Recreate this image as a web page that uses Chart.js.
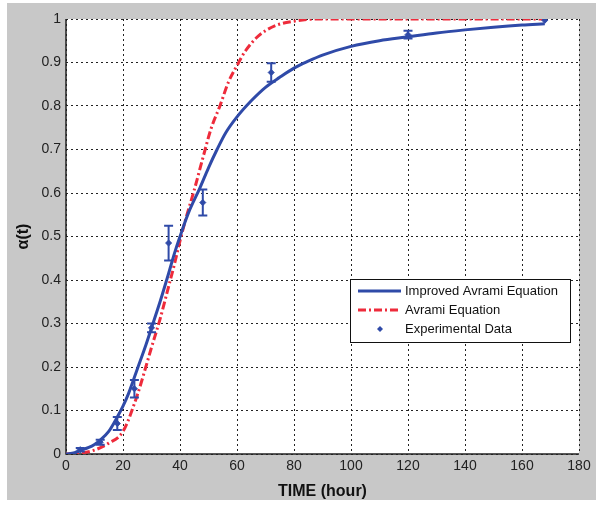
<!DOCTYPE html>
<html>
<head>
<meta charset="utf-8">
<script src="https://cdn.jsdelivr.net/npm/chart.js"></script>
<style>
  html, body { margin: 0; padding: 0; background: #fff; }
  #frame { position: absolute; left: 7px; top: 3px; width: 589px; height: 497px; background: #c8c8c8; }
  #wrap { position: absolute; left: 0; top: 0; width: 604px; height: 508px; }
</style>
</head>
<body>
<div id="frame"></div>
<div id="wrap"><canvas id="chart" width="604" height="508"></canvas></div>
<script>
// Improved Avrami fit (blue)
const improvedX = [0, 3, 5, 8, 10, 12, 15, 18, 20, 22, 25, 28, 30, 33, 36, 38, 40, 43, 47, 50, 53, 56, 60, 65, 70, 75, 80, 85, 90, 100, 110, 120, 130, 140, 150, 160, 168];
const improvedY = [0, 0.003, 0.008, 0.015, 0.022, 0.032, 0.052, 0.085, 0.11, 0.14, 0.195, 0.25, 0.29, 0.35, 0.415, 0.46, 0.5, 0.555, 0.612, 0.658, 0.7, 0.738, 0.775, 0.812, 0.843, 0.866, 0.887, 0.903, 0.917, 0.937, 0.95, 0.959, 0.968, 0.975, 0.981, 0.986, 0.989];

// Classic Avrami fit (red dash-dot)
const avramiX = [0, 5, 10, 15, 20, 25, 28, 30, 33, 36, 38, 40, 42, 45, 48, 51, 54, 57, 60, 63, 67, 70, 74, 80, 85, 90, 168];
const avramiY = [0, 0.002, 0.009, 0.025, 0.052, 0.135, 0.2, 0.245, 0.31, 0.385, 0.435, 0.49, 0.54, 0.607, 0.68, 0.75, 0.8, 0.855, 0.893, 0.927, 0.958, 0.973, 0.986, 0.995, 0.999, 1, 1];

// Experimental data with error bars
const expX = [5, 12, 18, 24, 30, 36, 48, 72, 120, 168];
const expY = [0.01, 0.027, 0.07, 0.15, 0.29, 0.485, 0.578, 0.877, 0.964, 0.997];
const expErr = [0.004, 0.006, 0.015, 0.02, 0.01, 0.04, 0.03, 0.021, 0.009, 0];

const xTicks = [0, 20, 40, 60, 80, 100, 120, 140, 160, 180];
const yTicks = [0, 0.1, 0.2, 0.3, 0.4, 0.5, 0.6, 0.7, 0.8, 0.9, 1];

const BLUE = '#2f4aa8';
const RED = '#ee2b3b';
const FONT = '"Liberation Sans", Arial, sans-serif';

const toPoints = (xs, ys) => xs.map((x, i) => ({ x: x, y: ys[i] }));

// white plot background
const plotBg = {
    id: 'plotBg',
    beforeDraw: (chart) => {
        const { ctx, chartArea: a } = chart;
        ctx.save();
        ctx.fillStyle = '#fff';
        ctx.fillRect(a.left, a.top, a.right - a.left, a.bottom - a.top);
        ctx.restore();
    }
};

// solid left and bottom axis lines (grid lines stay dotted)
const solidAxes = {
    id: 'solidAxes',
    beforeDatasetsDraw: (chart) => {
        const { ctx, chartArea: a } = chart;
        ctx.save();
        ctx.strokeStyle = '#222';
        ctx.lineWidth = 1.5;
        ctx.beginPath();
        ctx.moveTo(a.left, a.top);
        ctx.lineTo(a.left, a.bottom);
        ctx.lineTo(a.right, a.bottom);
        ctx.stroke();
        ctx.restore();
    }
};

// vertical error bars with caps
const errorBars = {
    id: 'errorBars',
    afterDatasetsDraw: (chart) => {
        const { ctx, scales } = chart;
        ctx.save();
        ctx.strokeStyle = BLUE;
        ctx.lineWidth = 2;
        expX.forEach((x, i) => {
            if (!expErr[i]) return;
            const px = scales.x.getPixelForValue(x);
            const top = scales.y.getPixelForValue(expY[i] + expErr[i]);
            const bot = scales.y.getPixelForValue(expY[i] - expErr[i]);
            ctx.beginPath();
            ctx.moveTo(px, top); ctx.lineTo(px, bot);
            ctx.moveTo(px - 4.5, top); ctx.lineTo(px + 4.5, top);
            ctx.moveTo(px - 4.5, bot); ctx.lineTo(px + 4.5, bot);
            ctx.stroke();
        });
        ctx.restore();
    }
};

// MATLAB-like legend box inside the axes
const boxLegend = {
    id: 'boxLegend',
    afterDraw: (chart) => {
        const { ctx } = chart;
        const x0 = 350, y0 = 279, w = 220, h = 63;
        ctx.save();
        ctx.fillStyle = '#fff';
        ctx.fillRect(x0, y0, w, h);
        ctx.strokeStyle = '#111';
        ctx.lineWidth = 1;
        ctx.strokeRect(x0 + 0.5, y0 + 0.5, w, h);
        ctx.font = '13px ' + FONT;
        ctx.textBaseline = 'middle';
        const rows = [y0 + 12, y0 + 31, y0 + 50];
        ctx.lineWidth = 3;
        ctx.strokeStyle = BLUE;
        ctx.beginPath(); ctx.moveTo(358, rows[0]); ctx.lineTo(401, rows[0]); ctx.stroke();
        ctx.strokeStyle = RED;
        ctx.setLineDash([8, 3, 2, 3]);
        ctx.beginPath(); ctx.moveTo(358, rows[1]); ctx.lineTo(401, rows[1]); ctx.stroke();
        ctx.setLineDash([]);
        ctx.fillStyle = BLUE;
        ctx.beginPath();
        ctx.moveTo(380, rows[2] - 3); ctx.lineTo(383, rows[2]); ctx.lineTo(380, rows[2] + 3); ctx.lineTo(377, rows[2]);
        ctx.closePath(); ctx.fill();
        ctx.fillStyle = '#111';
        ctx.fillText('Improved Avrami Equation', 405, rows[0]);
        ctx.fillText('Avrami Equation', 405, rows[1]);
        ctx.fillText('Experimental Data', 405, rows[2]);
        ctx.restore();
    }
};

new Chart(document.getElementById('chart'), {
    type: 'scatter',
    data: {
        datasets: [
            {
                label: 'Experimental Data',
                data: toPoints(expX, expY),
                pointStyle: 'rectRot',
                pointRadius: 3,
                backgroundColor: BLUE,
                borderColor: BLUE,
                order: 0
            },
            {
                label: 'Improved Avrami Equation',
                data: toPoints(improvedX, improvedY),
                showLine: true,
                pointRadius: 0,
                borderColor: BLUE,
                borderWidth: 3,
                cubicInterpolationMode: 'monotone',
                order: 1
            },
            {
                label: 'Avrami Equation',
                data: toPoints(avramiX, avramiY),
                showLine: true,
                pointRadius: 0,
                borderColor: RED,
                borderWidth: 3,
                borderDash: [8, 3, 2, 3],
                cubicInterpolationMode: 'monotone',
                order: 2
            }
        ]
    },
    options: {
        responsive: false,
        animation: false,
        layout: { padding: { top: 19, right: 25, left: 0, bottom: 0 } },
        plugins: {
            legend: { display: false },
            tooltip: { enabled: false }
        },
        scales: {
            x: {
                type: 'linear',
                min: 0,
                max: 180,
                afterFit: (s) => { s.height = 54; },
                afterBuildTicks: (s) => { s.ticks = xTicks.map(v => ({ value: v })); },
                ticks: {
                    color: '#222',
                    padding: 4,
                    font: { family: FONT, size: 14 }
                },
                grid: { color: '#222', lineWidth: 1, tickLength: 0 },
                border: { display: false, dash: [2, 3] },
                title: {
                    display: true,
                    text: 'TIME (hour)',
                    color: '#111',
                    padding: { top: 0, bottom: 7 },
                    font: { family: FONT, size: 16, weight: 'bold' }
                }
            },
            y: {
                type: 'linear',
                min: 0,
                max: 1,
                afterFit: (s) => { s.width = 66; },
                afterBuildTicks: (s) => { s.ticks = yTicks.map(v => ({ value: v })); },
                ticks: {
                    color: '#222',
                    padding: 5,
                    callback: (v) => String(Math.round(v * 10) / 10),
                    font: { family: FONT, size: 14 }
                },
                grid: { color: '#222', lineWidth: 1, tickLength: 0 },
                border: { display: false, dash: [2, 3] },
                title: {
                    display: true,
                    text: 'α(t)',
                    color: '#111',
                    padding: { top: 14, bottom: 0 },
                    font: { family: FONT, size: 16, weight: 'bold' }
                }
            }
        }
    },
    plugins: [plotBg, solidAxes, errorBars, boxLegend]
});
</script>
</body>
</html>
